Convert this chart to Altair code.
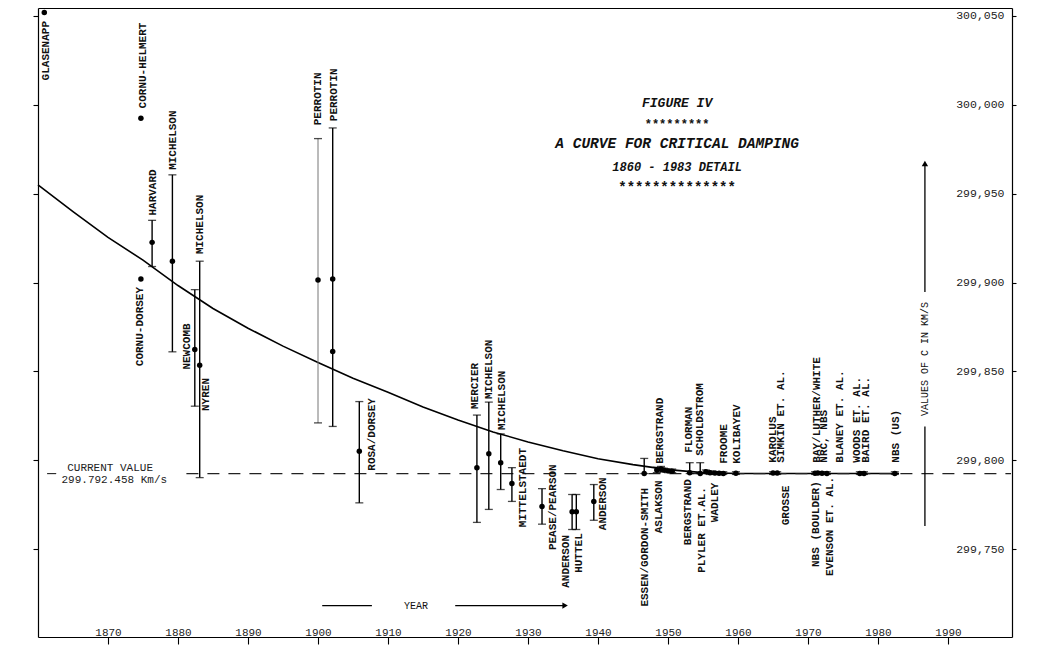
import altair as alt
import pandas as pd

# ---------------- data ----------------
m_name = ["GLASENAPP", "CORNU-HELMERT", "CORNU-DORSEY", "HARVARD", "MICHELSON", "NEWCOMB",
          "MICHELSON", "PERROTIN", "PERROTIN", "PERROTIN", "ROSA/DORSEY", "MERCIER",
          "MICHELSON", "MICHELSON", "MITTELSTAEDT", "PEASE/PEARSON", "ANDERSON", "HUTTEL",
          "ANDERSON", "ESSEN/GORDON-SMITH",
          "ASLAKSON", "BERGSTRAND", "ESSEN", "ASLAKSON", "BERGSTRAND",
          "FLORMAN", "SCHOLDSTROM", "PLYLER", "BERGSTRAND", "WADLEY", "RANK", "FROOME",
          "KOLIBAYEV", "KAROLUS", "GROSSE", "NBS (BOULDER)", "BAY/LUTHER/WHITE", "NRC, NBS",
          "EVENSON", "WOODS", "BAIRD", "NBS (US)"]
m_year = [1860.9, 1874.7, 1874.7, 1876.3, 1879.2, 1882.4,
          1883.1, 1900.0, 1902.1, 1902.1, 1905.9, 1922.7,
          1924.4, 1926.1, 1927.7, 1932.0, 1936.3, 1936.9,
          1939.4, 1946.6,
          1948.4, 1949.0, 1949.4, 1950.0, 1950.6,
          1953.1, 1954.6, 1955.4, 1956.0, 1956.7, 1957.3, 1957.9,
          1959.7, 1965.0, 1965.6, 1971.0, 1971.4, 1972.0,
          1972.7, 1977.4, 1978.0, 1982.4]
m_value = [300052.0, 299992.5, 299902.0, 299922.6, 299912.0, 299862.3,
           299853.4, 299901.4, 299902.0, 299861.2, 299805.0, 299795.8,
           299803.6, 299798.6, 299786.9, 299774.0, 299771.0, 299771.0,
           299776.8, 299792.5,
           299794.5, 299795.0, 299794.5, 299794.0, 299793.8,
           299793.0, 299792.5, 299793.5, 299793.0, 299792.8, 299792.6, 299792.5,
           299792.7, 299792.8, 299792.8, 299792.6, 299792.8, 299792.6,
           299792.5, 299792.5, 299792.5, 299792.5]
m_lo = [300052.0, 299992.5, 299902.0, 299909.0, 299861.0, 299830.4,
        299790.2, 299821.0, 299819.0, 299861.2, 299776.0, 299765.0,
        299772.3, 299783.5, 299776.8, 299764.0, 299761.0, 299761.0,
        299766.2, 299792.5,
        299793.0, 299793.5, 299793.5, 299793.0, 299793.0,
        299792.5, 299792.5, 299792.5, 299792.0, 299792.0, 299792.0, 299792.0,
        299792.0, 299792.0, 299792.0, 299792.0, 299792.0, 299792.0,
        299792.0, 299792.0, 299792.0, 299792.0]
m_hi = [300052.0, 299992.5, 299902.0, 299935.0, 299960.6, 299896.0,
        299912.0, 299981.0, 299987.0, 299861.2, 299833.0, 299825.4,
        299832.7, 299814.8, 299795.8, 299784.0, 299780.7, 299780.7,
        299786.3, 299801.0,
        299796.0, 299796.5, 299795.5, 299795.0, 299795.0,
        299798.6, 299798.6, 299794.5, 299794.0, 299793.5, 299793.5, 299793.5,
        299793.5, 299793.5, 299793.5, 299793.5, 299793.5, 299793.5,
        299793.5, 299793.5, 299793.5, 299793.5]
faint_years = [1900.0]   # bar printed lighter in the original

# labels (text, anchor year, anchor value, reading direction from anchor)
lab_text = ["GLASENAPP", "CORNU-HELMERT", "CORNU-DORSEY", "HARVARD", "MICHELSON", "NEWCOMB",
            "MICHELSON", "NYREN", "PERROTIN", "PERROTIN", "ROSA/DORSEY", "MERCIER",
            "MICHELSON", "MICHELSON", "MITTELSTAEDT", "PEASE/PEARSON", "ANDERSON", "HUTTEL",
            "ANDERSON", "ESSEN/GORDON-SMITH", "ASLAKSON", "BERGSTRAND", "BERGSTRAND", "FLORMAN",
            "PLYLER ET.AL.", "SCHOLDSTROM", "WADLEY", "FROOME", "KOLIBAYEV", "KAROLUS",
            "SIMKIN ET. AL.", "GROSSE", "NBS (BOULDER)", "BAY/LUTHER/WHITE", "NRC, NBS",
            "EVENSON ET. AL.", "BLANEY ET. AL.", "WOODS ET. AL.", "BAIRD ET. AL.", "NBS (US)"]
lab_year = [1861.1, 1875.0, 1874.6, 1876.4, 1879.3, 1881.3,
            1883.1, 1884.0, 1900.0, 1902.3, 1907.7, 1922.4,
            1924.4, 1926.3, 1929.3, 1933.6, 1935.4, 1937.3,
            1940.7, 1946.7, 1948.7, 1948.9, 1952.9, 1953.0,
            1954.9, 1954.6, 1956.7, 1958.0, 1959.9, 1965.0,
            1966.1, 1966.9, 1971.1, 1971.3, 1972.3,
            1973.1, 1974.6, 1977.0, 1978.3, 1982.6]
lab_value = [300047.2, 299998.0, 299897.5, 299937.7, 299963.4, 299851.0,
             299916.0, 299827.7, 299988.5, 299990.8, 299794.1, 299828.8,
             299834.4, 299817.0, 299762.3, 299749.4, 299728.2, 299736.6,
             299760.6, 299717.6, 299758.9, 299798.0, 299752.2, 299804.2,
             299736.6, 299802.5, 299765.1, 299798.0, 299798.0, 299798.6,
             299798.6, 299763.4, 299739.9, 299798.6, 299798.6,
             299734.9, 299798.6, 299798.6, 299798.6, 299798.6]
lab_dir = ["down", "up", "down"] + ["up"] * 37

# critical damping curve, read point by point
curve_year = [1860, 1865, 1870, 1875, 1880, 1885, 1890, 1895, 1900, 1905, 1910, 1915,
              1920, 1925, 1930, 1935, 1940, 1945, 1950, 1955, 1960, 1983]
curve_value = [299955.0, 299939.9, 299925.4, 299912.6, 299898.3, 299885.4, 299874.3,
               299864.2, 299855.0, 299846.1, 299838.3, 299829.9, 299822.6, 299815.9,
               299810.3, 299805.3, 299800.8, 299797.5, 299794.7, 299793.0, 299792.5,
               299792.5]

current_c = 299792.458
dash_from = [1861.3, 1881.2]
dash_to = [1862.6, 1999.0]

year_ticks = [1870, 1880, 1890, 1900, 1910, 1920, 1930, 1940, 1950, 1960, 1970, 1980, 1990]
c_ticks = [299750, 299800, 299850, 299900, 299950, 300000, 300050]

title_lines = ["FIGURE IV", "*********", "A CURVE FOR CRITICAL DAMPING",
               "1860 - 1983 DETAIL", "**************"]
title_value = [300001.0, 299989.0, 299978.0, 299965.0, 299953.0]
title_size = [13, 12, 14.5, 12, 14]
title_italic = [True, False, True, True, False]
title_year = 1951.3

# ---------------- tables ----------------
meas = pd.DataFrame({"name": m_name, "year": m_year, "c": m_value, "lo": m_lo, "hi": m_hi})
meas["faint"] = meas["year"].isin(faint_years)
bars = meas[meas["hi"] > meas["lo"]]
labels = pd.DataFrame({"t": lab_text, "year": lab_year, "c": lab_value, "dir": lab_dir})
curve = pd.DataFrame({"year": curve_year, "c": curve_value})
dashes = pd.DataFrame({"x1": dash_from, "x2": dash_to, "c": [current_c] * len(dash_from)})
titles = pd.DataFrame({"t": title_lines, "c": title_value, "fs": title_size,
                       "it": title_italic, "year": [title_year] * len(title_lines)})
notes = pd.DataFrame({"t": ["CURRENT VALUE", "299.792.458 Km/s"],
                      "year": [1870.3, 1870.9], "c": [299795.8, 299789.1]})
yr_arrow = pd.DataFrame({"x1": [1900.6, 1919.6], "x2": [1907.7, 1935.3], "c": [299718.2, 299718.2]})
c_arrow = pd.DataFrame({"year": [1986.7, 1986.7], "c1": [299894.7, 299819.0], "c2": [299967.0, 299763.0]})

FONT = "Liberation Mono"
xs = alt.Scale(domain=[1860, 1999.14], nice=False, zero=False)
ys = alt.Scale(domain=[299700.5, 300054.5], nice=False, zero=False)

ax_common = dict(grid=False, domainColor="black", tickColor="black", domainWidth=1.2,
                 tickWidth=1.1, labelFont=FONT, labelColor="#222", title=None)

x_bottom = alt.Axis(orient="bottom", values=year_ticks, format="d", tickSize=7,
                    labelPadding=-18, labelFontSize=11, labelFlush=False, **ax_common)
x_top = alt.Axis(orient="top", values=year_ticks, labels=False, tickSize=4, **ax_common)
y_left = alt.Axis(orient="left", values=c_ticks, labels=False, tickSize=5, **ax_common)
y_right = alt.Axis(orient="right", values=c_ticks, format=",d", tickSize=4, labelAlign="right",
                   labelPadding=-12, labelFontSize=11.5, labelFlush=False, **ax_common)

curve_layer = alt.Chart(curve).mark_line(color="black", strokeWidth=1.6).encode(
    x=alt.X("year:Q", scale=xs, axis=x_bottom),
    y=alt.Y("c:Q", scale=ys, axis=y_left),
)

dash_layer = alt.Chart(dashes).mark_rule(color="#222", strokeWidth=1.1, strokeDash=[12, 9]).encode(
    x=alt.X("x1:Q", scale=xs, axis=x_top),
    x2="x2:Q",
    y=alt.Y("c:Q", scale=ys, axis=y_right),
)

err_layer = alt.Chart(bars).transform_filter(~alt.datum.faint).mark_rule(color="black", strokeWidth=1.4).encode(
    x=alt.X("year:Q", scale=xs, axis=None),
    y=alt.Y("lo:Q", scale=ys, axis=None),
    y2="hi:Q",
)
err_faint = alt.Chart(bars).transform_filter(alt.datum.faint).mark_rule(color="#777", strokeWidth=1.0).encode(
    x=alt.X("year:Q", scale=xs, axis=None),
    y=alt.Y("lo:Q", scale=ys, axis=None),
    y2="hi:Q",
)
cap_lo = alt.Chart(bars).mark_tick(color="black", orient="horizontal", size=8, thickness=1.3).encode(
    x=alt.X("year:Q", scale=xs, axis=None), y=alt.Y("lo:Q", scale=ys, axis=None))
cap_hi = alt.Chart(bars).mark_tick(color="black", orient="horizontal", size=8, thickness=1.3).encode(
    x=alt.X("year:Q", scale=xs, axis=None), y=alt.Y("hi:Q", scale=ys, axis=None))

pts = alt.Chart(meas).mark_circle(color="black", size=30, opacity=1).encode(
    x=alt.X("year:Q", scale=xs, axis=None), y=alt.Y("c:Q", scale=ys, axis=None))

lab_base = dict(angle=270, font=FONT, fontSize=11, fontWeight="bold", baseline="middle", color="#111")
lab_up = alt.Chart(labels).transform_filter(alt.datum.dir == "up").mark_text(align="left", **lab_base).encode(
    x=alt.X("year:Q", scale=xs, axis=None), y=alt.Y("c:Q", scale=ys, axis=None), text="t:N")
lab_down = alt.Chart(labels).transform_filter(alt.datum.dir == "down").mark_text(align="right", **lab_base).encode(
    x=alt.X("year:Q", scale=xs, axis=None), y=alt.Y("c:Q", scale=ys, axis=None), text="t:N")

title_it = alt.Chart(titles).transform_filter(alt.datum.it).mark_text(
    font=FONT, fontStyle="italic", fontWeight="bold", baseline="middle", align="center", color="#111").encode(
    x=alt.X("year:Q", scale=xs, axis=None), y=alt.Y("c:Q", scale=ys, axis=None), text="t:N",
    size=alt.Size("fs:Q", scale=None, legend=None))
title_up = alt.Chart(titles).transform_filter(~alt.datum.it).mark_text(
    font=FONT, fontWeight="bold", baseline="middle", align="center", color="#111").encode(
    x=alt.X("year:Q", scale=xs, axis=None), y=alt.Y("c:Q", scale=ys, axis=None), text="t:N",
    size=alt.Size("fs:Q", scale=None, legend=None))

note_layer = alt.Chart(notes).mark_text(font=FONT, fontSize=11, baseline="middle", align="center",
                                        color="#222").encode(
    x=alt.X("year:Q", scale=xs, axis=None), y=alt.Y("c:Q", scale=ys, axis=None), text="t:N")

yr_line = alt.Chart(yr_arrow).mark_rule(color="black", strokeWidth=1.3).encode(
    x=alt.X("x1:Q", scale=xs, axis=None), x2="x2:Q", y=alt.Y("c:Q", scale=ys, axis=None))
yr_head = alt.Chart(yr_arrow).transform_filter(alt.datum.x1 > 1910).mark_point(
    shape="triangle-right", filled=True, color="black", size=40, opacity=1).encode(
    x=alt.X("x2:Q", scale=xs, axis=None), y=alt.Y("c:Q", scale=ys, axis=None))
yr_text = alt.Chart(pd.DataFrame({"t": ["YEAR"], "year": [1914.0], "c": [299718.2]})).mark_text(
    font=FONT, fontSize=10, baseline="middle", align="center", color="#111").encode(
    x=alt.X("year:Q", scale=xs, axis=None), y=alt.Y("c:Q", scale=ys, axis=None), text="t:N")

c_line = alt.Chart(c_arrow).mark_rule(color="black", strokeWidth=1.3).encode(
    x=alt.X("year:Q", scale=xs, axis=None), y=alt.Y("c1:Q", scale=ys, axis=None), y2="c2:Q")
c_head = alt.Chart(c_arrow).transform_filter(alt.datum.c2 > 299900).mark_point(
    shape="triangle-up", filled=True, color="black", size=40, opacity=1).encode(
    x=alt.X("year:Q", scale=xs, axis=None), y=alt.Y("c2:Q", scale=ys, axis=None))
c_text = alt.Chart(pd.DataFrame({"t": ["VALUES OF C IN KM/S"], "year": [1986.7], "c": [299857.0]})).mark_text(
    font=FONT, fontSize=10, angle=270, baseline="middle", align="center", color="#111").encode(
    x=alt.X("year:Q", scale=xs, axis=None), y=alt.Y("c:Q", scale=ys, axis=None), text="t:N")

chart = alt.layer(
    curve_layer, dash_layer, err_layer, err_faint, cap_lo, cap_hi, pts, lab_up, lab_down,
    title_it, title_up, note_layer, yr_line, yr_head, yr_text, c_line, c_head, c_text,
).resolve_axis(x="independent", y="independent").resolve_scale(x="shared", y="shared").properties(
    width=974, height=629,
    autosize=alt.AutoSizeParams(type="none"),
    padding={"left": 30, "top": 0, "right": 22, "bottom": 23},
    background="white",
).configure_view(stroke=None)

chart.save("out.html", embed_options={"renderer": "svg", "actions": False})
